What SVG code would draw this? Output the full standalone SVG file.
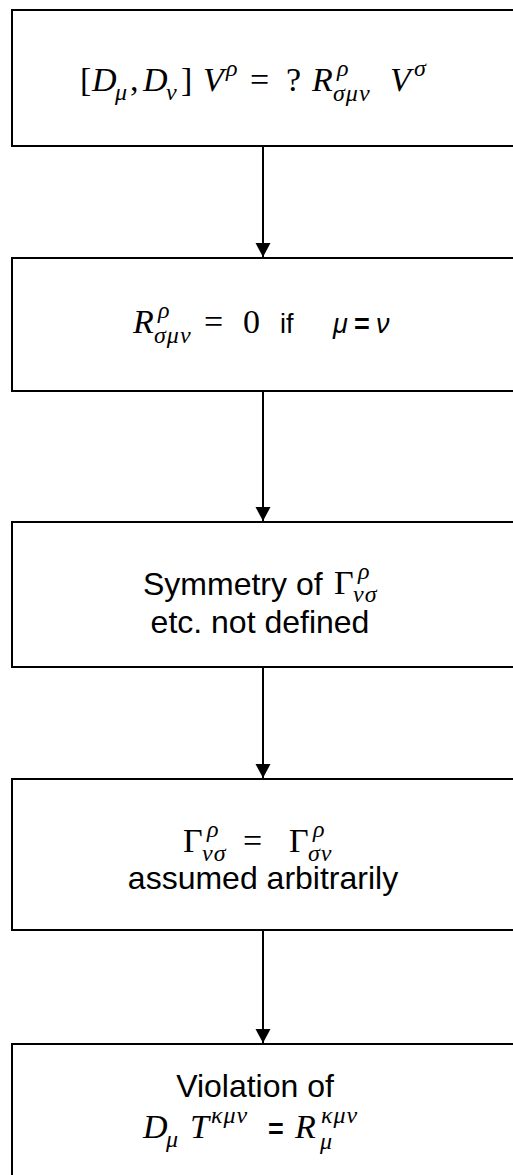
<svg xmlns="http://www.w3.org/2000/svg" width="513" height="1175" viewBox="0 0 513 1175">
<style>
.box{fill:#fff;stroke:#000;stroke-width:2}
.conn{stroke:#000;stroke-width:2;fill:none}
.m{font-family:"Liberation Serif","Times New Roman",serif;font-size:34px;fill:#000}
.i{font-style:italic}
.s{font-size:24px;letter-spacing:1px}
.t{font-family:"Liberation Sans",Arial,sans-serif;font-size:32px;fill:#000}
.ts{font-family:"Liberation Sans",Arial,sans-serif;font-size:27px;fill:#000}
</style>
<defs>
<marker id="arr" markerUnits="userSpaceOnUse" markerWidth="16" markerHeight="16" refX="14" refY="8" orient="auto">
<path d="M0,0.5 L14,8 L0,15.5 z" fill="#000"/>
</marker>
</defs>
<g id="connectors">
<line class="conn" x1="263" y1="146" x2="263" y2="257" marker-end="url(#arr)"/>
<line class="conn" x1="263" y1="391" x2="263" y2="521" marker-end="url(#arr)"/>
<line class="conn" x1="263" y1="667" x2="263" y2="778" marker-end="url(#arr)"/>
<line class="conn" x1="263" y1="930" x2="263" y2="1043" marker-end="url(#arr)"/>
</g>
<g id="node1">
<rect class="box" x="12" y="10" width="503" height="136"/>
<text class="m" y="91"><tspan x="80">[</tspan><tspan x="92" class="i">D</tspan><tspan x="115" y="100" class="i s">μ</tspan><tspan x="130" y="91">,</tspan><tspan x="143" class="i">D</tspan><tspan x="166" y="100" class="i s">ν</tspan><tspan x="181" y="91">]</tspan><tspan x="203" class="i">V</tspan><tspan x="226" y="76" class="i s">ρ</tspan><tspan x="250" y="91">=</tspan><tspan x="286">?</tspan><tspan x="312" class="i">R</tspan><tspan x="337" y="76" class="i s">ρ</tspan><tspan x="333" y="101" class="i s">σμν</tspan><tspan x="390" y="91" class="i">V</tspan><tspan x="414" y="76" class="i s">σ</tspan></text>
</g>
<g id="node2">
<rect class="box" x="12" y="258" width="503" height="133"/>
<text class="m" y="333"><tspan x="133" class="i">R</tspan><tspan x="158" y="318" class="i s">ρ</tspan><tspan x="154" y="343" class="i s">σμν</tspan><tspan x="204" y="333">=</tspan><tspan x="243">0</tspan></text>
<text class="ts" x="280" y="333">if</text>
<text class="ts" y="333" font-size="30"><tspan x="333" font-style="italic">μ</tspan><tspan x="354" font-weight="bold">=</tspan><tspan x="376" font-style="italic">ν</tspan></text>
</g>
<g id="node3">
<rect class="box" x="12" y="522" width="503" height="145"/>
<text class="t" x="143" y="595">Symmetry of</text>
<text class="m" y="594"><tspan x="334">Γ</tspan><tspan x="358" y="579" class="i s">ρ</tspan><tspan x="353" y="602" class="i s">νσ</tspan></text>
<text class="t" x="260" y="633" text-anchor="middle">etc. not defined</text>
</g>
<g id="node4">
<rect class="box" x="12" y="779" width="503" height="151"/>
<text class="m" y="852"><tspan x="183">Γ</tspan><tspan x="207" y="837" class="i s">ρ</tspan><tspan x="202" y="861" class="i s">νσ</tspan><tspan x="243" y="852">=</tspan><tspan x="289">Γ</tspan><tspan x="313" y="837" class="i s">ρ</tspan><tspan x="308" y="861" class="i s">σν</tspan></text>
<text class="t" x="263" y="889" text-anchor="middle">assumed arbitrarily</text>
</g>
<g id="node5">
<rect class="box" x="12" y="1044" width="503" height="140"/>
<text class="t" x="255" y="1097" text-anchor="middle">Violation of</text>
<text class="m" y="1138"><tspan x="143" class="i">D</tspan><tspan x="166" y="1147" class="i s">μ</tspan><tspan x="190" y="1138" class="i">T</tspan><tspan x="211" y="1123" class="i s">κμν</tspan></text>
<text class="ts" x="268" y="1138" font-weight="bold">=</text>
<text class="m" y="1138"><tspan x="295" class="i">R</tspan><tspan x="321" y="1123" class="i s">κμν</tspan><tspan x="320" y="1149" class="i s">μ</tspan></text>
</g>
</svg>
